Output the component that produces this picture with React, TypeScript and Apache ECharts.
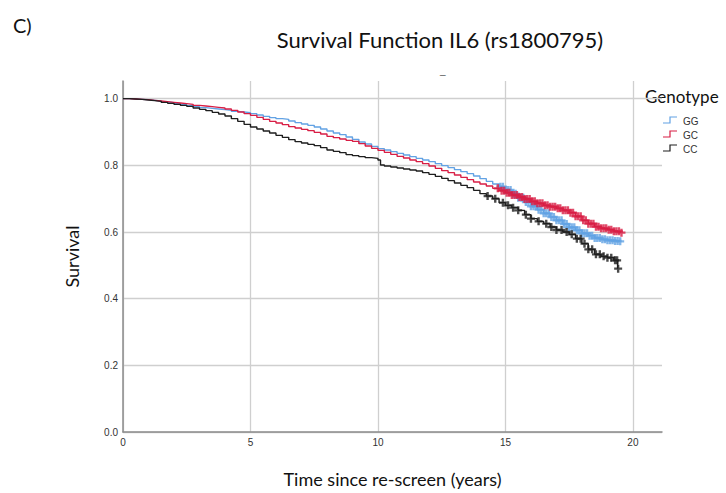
import React, { useEffect, useRef } from "react";
import * as echarts from "echarts";

const xTicks = [0, 5, 10, 15, 20];
const yTicks = [0.0, 0.2, 0.4, 0.6, 0.8, 1.0];

const timeGG = [0, 0.25, 0.5, 0.75, 1, 1.25, 1.5, 1.75, 2, 2.25, 2.5, 2.75, 3, 3.25, 3.5, 3.75, 4, 4.25, 4.5, 4.75, 5, 5.25, 5.5, 5.75, 6, 6.25, 6.5, 6.75, 7, 7.25, 7.5, 7.75, 8, 8.25, 8.5, 8.75, 9, 9.25, 9.5, 9.75, 10, 10.25, 10.5, 10.75, 11, 11.25, 11.5, 11.75, 12, 12.25, 12.5, 12.75, 13, 13.25, 13.5, 13.75, 14, 14.25, 14.5, 14.75, 15, 15.25, 15.5, 15.75, 16, 16.25, 16.5, 16.75, 17, 17.25, 17.5, 17.75, 18, 18.25, 18.5, 18.75, 19, 19.25, 19.5];
const survGG = [1.0, 0.999, 0.998, 0.997, 0.995, 0.993, 0.99, 0.988, 0.985, 0.982, 0.979, 0.976, 0.973, 0.971, 0.969, 0.967, 0.965, 0.962, 0.96, 0.958, 0.955, 0.951, 0.947, 0.943, 0.94, 0.938, 0.933, 0.928, 0.924, 0.92, 0.915, 0.909, 0.903, 0.897, 0.892, 0.885, 0.878, 0.87, 0.864, 0.857, 0.85, 0.846, 0.841, 0.836, 0.831, 0.826, 0.821, 0.816, 0.811, 0.805, 0.799, 0.793, 0.787, 0.781, 0.775, 0.768, 0.76, 0.752, 0.744, 0.736, 0.726, 0.715, 0.703, 0.69, 0.677, 0.667, 0.656, 0.645, 0.635, 0.624, 0.614, 0.605, 0.596, 0.589, 0.582, 0.578, 0.575, 0.573, 0.572];

const timeGC = [0, 0.25, 0.5, 0.75, 1, 1.25, 1.5, 1.75, 2, 2.25, 2.5, 2.75, 3, 3.25, 3.5, 3.75, 4, 4.25, 4.5, 4.75, 5, 5.25, 5.5, 5.75, 6, 6.25, 6.5, 6.75, 7, 7.25, 7.5, 7.75, 8, 8.25, 8.5, 8.75, 9, 9.25, 9.5, 9.75, 10, 10.25, 10.5, 10.75, 11, 11.25, 11.5, 11.75, 12, 12.25, 12.5, 12.75, 13, 13.25, 13.5, 13.75, 14, 14.25, 14.5, 14.75, 15, 15.25, 15.5, 15.75, 16, 16.25, 16.5, 16.75, 17, 17.25, 17.5, 17.75, 18, 18.25, 18.5, 18.75, 19, 19.25, 19.5];
const survGC = [1.0, 0.999, 0.998, 0.997, 0.995, 0.993, 0.991, 0.989, 0.987, 0.985, 0.983, 0.98, 0.978, 0.976, 0.974, 0.972, 0.969, 0.965, 0.96, 0.955, 0.95, 0.944, 0.938, 0.932, 0.927, 0.922, 0.916, 0.912, 0.908, 0.904, 0.899, 0.894, 0.887, 0.883, 0.879, 0.875, 0.872, 0.865, 0.858, 0.851, 0.845, 0.839, 0.833, 0.827, 0.822, 0.816, 0.811, 0.805, 0.798, 0.791, 0.784, 0.778, 0.771, 0.764, 0.757, 0.75, 0.744, 0.738, 0.731, 0.724, 0.718, 0.711, 0.705, 0.699, 0.692, 0.686, 0.68, 0.676, 0.671, 0.665, 0.658, 0.647, 0.635, 0.625, 0.616, 0.611, 0.607, 0.602, 0.598];

const timeCC = [0, 0.25, 0.5, 0.75, 1, 1.25, 1.5, 1.75, 2, 2.25, 2.5, 2.75, 3, 3.25, 3.5, 3.75, 4, 4.25, 4.5, 4.75, 5, 5.25, 5.5, 5.75, 6, 6.25, 6.5, 6.75, 7, 7.25, 7.5, 7.75, 8, 8.25, 8.5, 8.75, 9, 9.25, 9.5, 9.75, 10, 10.1, 10.25, 10.5, 10.75, 11, 11.25, 11.5, 11.75, 12, 12.25, 12.5, 12.75, 13, 13.25, 13.5, 13.75, 14, 14.25, 14.5, 14.75, 15, 15.25, 15.5, 15.75, 16, 16.25, 16.5, 16.75, 17, 17.25, 17.5, 17.75, 18, 18.25, 18.5, 18.75, 19, 19.25, 19.4];
const survCC = [1.0, 0.999, 0.998, 0.996, 0.994, 0.992, 0.989, 0.986, 0.983, 0.98, 0.977, 0.972, 0.968, 0.964, 0.959, 0.954, 0.948, 0.94, 0.932, 0.923, 0.915, 0.909, 0.903, 0.897, 0.89, 0.884, 0.877, 0.871, 0.867, 0.863, 0.859, 0.853, 0.846, 0.842, 0.838, 0.832, 0.829, 0.826, 0.823, 0.821, 0.816, 0.801, 0.798, 0.795, 0.792, 0.789, 0.786, 0.783, 0.778, 0.773, 0.767, 0.761, 0.754, 0.747, 0.74, 0.733, 0.725, 0.715, 0.708, 0.7, 0.688, 0.68, 0.673, 0.665, 0.652, 0.64, 0.632, 0.625, 0.615, 0.606, 0.6, 0.593, 0.58, 0.565, 0.548, 0.533, 0.527, 0.523, 0.515, 0.49];

const censorGG = [14.8, 14.9, 15.0, 15.1, 15.2, 15.3, 15.4, 15.5, 15.6, 15.7, 15.8, 15.9, 16.0, 16.1, 16.2, 16.3, 16.4, 16.5, 16.6, 16.7, 16.8, 16.9, 17.0, 17.1, 17.2, 17.3, 17.4, 17.5, 17.6, 17.7, 17.8, 17.9, 18.0, 18.1, 18.2, 18.3, 18.4, 18.5, 18.6, 18.7, 18.8, 18.9, 19.0, 19.1, 19.2, 19.3, 19.4, 19.5];
const censorGC = [14.7, 14.85, 14.95, 15.05, 15.15, 15.25, 15.35, 15.45, 15.55, 15.65, 15.75, 15.85, 15.95, 16.05, 16.15, 16.25, 16.35, 16.45, 16.55, 16.65, 16.75, 16.85, 16.95, 17.05, 17.15, 17.25, 17.35, 17.45, 17.55, 17.65, 17.75, 17.85, 17.95, 18.05, 18.15, 18.25, 18.35, 18.45, 18.55, 18.65, 18.75, 18.85, 18.95, 19.05, 19.15, 19.25, 19.35, 19.45, 19.55];
const censorCC = [14.3, 14.6, 14.9, 15.1, 15.3, 15.5, 15.8, 16.0, 16.3, 16.6, 16.8, 17.0, 17.2, 17.4, 17.6, 17.8, 17.95, 18.1, 18.25, 18.4, 18.55, 18.7, 18.85, 19.0, 19.15, 19.3, 19.38, 19.42];

const names = ["GG", "GC", "CC"];
const colors = ["#62a2e4", "#d81e45", "#1e1e1e"];

function stepAt(times: number[], surv: number[], t: number) {
  let v = surv[0];
  for (let i = 0; i < times.length; i++) if (times[i] <= t) v = surv[i];
  return v;
}

const PLUS = "path://M3.5,0h3v3.5h3.5v3h-3.5v3.5h-3v-3.5h-3.5v-3h3.5z";

export default function App() {
  const ref = useRef<HTMLDivElement>(null);
  useEffect(() => {
    if (!ref.current) return;
    const chart = echarts.init(ref.current, null, { renderer: "svg" });
    const curves = [
      [timeGG, survGG, censorGG],
      [timeGC, survGC, censorGC],
      [timeCC, survCC, censorCC],
    ] as number[][][];
    const series: any[] = [];
    curves.forEach(([t, s, c], i) => {
      series.push({
        name: names[i],
        type: "line",
        step: "end",
        showSymbol: false,
        data: t.map((v, j) => [v, s[j]]),
        lineStyle: { color: colors[i], width: 1.4 },
        z: 2 + i,
      });
      series.push({
        name: names[i] + "-c",
        type: "scatter",
        symbol: PLUS,
        symbolSize: 8,
        data: c.map((v) => [v, stepAt(t, s, v)]),
        itemStyle: { color: colors[i] },
        z: 2 + i,
      });
    });
    const legendItems: any[] = [];
    names.forEach((n, i) => {
      const y = 119 + i * 14;
      legendItems.push({
        type: "polyline",
        shape: { points: [[663, y + 4], [670, y + 4], [670, y - 2], [677, y - 2]] },
        style: { stroke: colors[i], lineWidth: 1.2, fill: null },
      });
      legendItems.push({
        type: "text",
        x: 683,
        y: y + 2,
        style: { text: n, font: "10px 'Liberation Sans', Arial", fill: "#333", verticalAlign: "middle" },
      });
    });
    chart.setOption({
      animation: false,
      backgroundColor: "#ffffff",
      grid: { left: 123, right: 64, top: 81, bottom: 57, containLabel: false },
      xAxis: {
        type: "value",
        min: 0,
        max: 21.14,
        interval: 5,
        name: "Time since re-screen (years)",
        nameLocation: "middle",
        nameGap: 38,
        nameTextStyle: { fontFamily: "Lato", fontSize: 18, color: "#111" },
        axisLine: { show: true, lineStyle: { color: "#8c8c8c", width: 1.5 } },
        axisTick: { show: false },
        axisLabel: {
          showMaxLabel: false,
          fontFamily: "Liberation Sans",
          fontSize: 10,
          color: "#333",
          margin: 5,
          formatter: (v: number) => (xTicks.includes(v) ? String(v) : ""),
        },
        splitLine: { show: true, showMaxLine: false, lineStyle: { color: "#cfcfcf", width: 1.3 } },
      },
      yAxis: {
        type: "value",
        min: 0,
        max: 1.053,
        interval: 0.2,
        name: "Survival",
        nameLocation: "middle",
        nameGap: 42,
        nameTextStyle: { fontFamily: "Lato", fontSize: 18, color: "#111" },
        axisLine: { show: true, lineStyle: { color: "#8c8c8c", width: 1.5 } },
        axisTick: { show: false },
        axisLabel: {
          showMaxLabel: false,
          fontFamily: "Liberation Sans",
          fontSize: 10,
          color: "#333",
          margin: 5,
          formatter: (v: number) => {
            const m = yTicks.find((y) => Math.abs(y - v) < 1e-6);
            return m === undefined ? "" : m.toFixed(1);
          },
        },
        splitLine: { show: true, showMaxLine: false, lineStyle: { color: "#cfcfcf", width: 1.3 } },
      },
      title: [
        {
          text: "Survival Function IL6 (rs1800795)",
          left: 435,
          textAlign: "center",
          top: 23,
          textStyle: { fontFamily: "Lato", fontSize: 22, fontWeight: "normal", color: "#111" },
        },
        {
          text: "C)",
          left: 8,
          top: 10,
          textStyle: { fontFamily: "Lato", fontSize: 20, fontWeight: "normal", color: "#111" },
        },
      ],
      graphic: [
        {
          type: "text",
          x: 645,
          y: 88,
          style: { text: "Genotype", font: "17px Lato", fill: "#111" },
        },
        {
          type: "text",
          x: 440,
          y: 65,
          style: { text: "_", font: "10px 'Liberation Sans'", fill: "#555" },
        },
        ...legendItems,
      ],
      series,
    });
    return () => chart.dispose();
  }, []);
  return <div ref={ref} style={{ width: 726, height: 493, position: "absolute", left: 0, top: 0 }} />;
}
